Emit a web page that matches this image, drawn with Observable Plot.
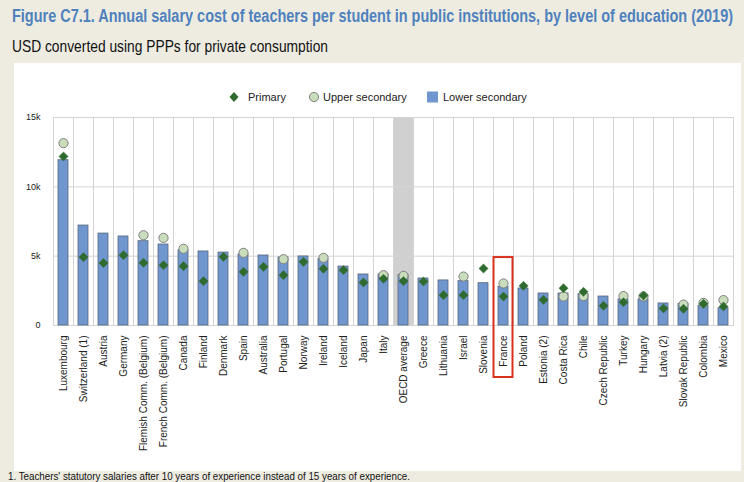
<!DOCTYPE html>
<html>
<head>
<meta charset="utf-8">
<script src="https://cdn.jsdelivr.net/npm/d3@7"></script>
<script src="https://cdn.jsdelivr.net/npm/@observablehq/plot@0.6"></script>
<style>
  html, body { margin: 0; padding: 0; background: #eeece1; }
  #page { position: relative; width: 744px; height: 482px; background: #eeece1; overflow: hidden; font-family: "Liberation Sans", Arial, sans-serif; }
  .fit { position: absolute; white-space: nowrap; transform-origin: 0 0; font-family: "Liberation Sans Narrow", "Arial Narrow", "Liberation Sans", Arial, sans-serif; }
  #title { left: 12px; top: 6px; font-size: 17.5px; font-weight: bold; color: #4f81bd; }
  #subtitle { left: 12px; top: 37px; font-size: 17px; color: #111; }
  #panel { position: absolute; left: 14px; top: 63px; width: 727px; height: 408px; background: #fff; }
  #chart { position: absolute; left: 14px; top: 106px; }
  .leg { position: absolute; font-size: 11px; color: #222; line-height: 12px; top: 91px; white-space: nowrap; }
  .sym { position: absolute; top: 91px; }
  #note { left: 8px; top: 471px; font-size: 10.5px; line-height: 11px; color: #111; }
</style>
</head>
<body>
<div id="page">
  <div id="title" class="fit">Figure C7.1. Annual salary cost of teachers per student in public institutions, by level of education (2019)</div>
  <div id="subtitle" class="fit">USD converted using PPPs for private consumption</div>
  <div id="panel"></div>
  <svg class="sym" style="left:229px" width="10" height="12"><path d="M5,1 L9.5,6 L5,11 L0.5,6 Z" fill="#2f6b2f"/></svg>
  <div class="leg" style="left:248px">Primary</div>
  <svg class="sym" style="left:308px" width="12" height="12"><circle cx="6" cy="6" r="4.6" fill="#c9dcbc" stroke="#7f7f7f" stroke-width="1"/></svg>
  <div class="leg" style="left:323px">Upper secondary</div>
  <svg class="sym" style="left:427px" width="12" height="12"><rect x="0" y="0.5" width="11" height="11" fill="#7096cf"/></svg>
  <div class="leg" style="left:443px">Lower secondary</div>
  <div id="chart"></div>
  <div id="note" class="fit">1. Teachers' statutory salaries after 10 years of experience instead of 15 years of experience.</div>
</div>
<script>
const countries = ["Luxembourg","Switzerland (1)","Austria","Germany","Flemish Comm. (Belgium)","French Comm. (Belgium)","Canada","Finland","Denmark","Spain","Australia","Portugal","Norway","Ireland","Iceland","Japan","Italy","OECD average","Greece","Lithuania","Israel","Slovenia","France","Poland","Estonia (2)","Costa Rica","Chile","Czech Republic","Turkey","Hungary","Latvia (2)","Slovak Republic","Colombia","Mexico"];
const lowerSecondary = [11920,7210,6630,6420,6080,5840,5420,5340,5260,5120,5050,4900,4980,4800,4250,3680,3680,3630,3390,3250,3200,3050,2790,2670,2310,2310,2260,2090,1880,1880,1590,1560,1420,1250];
const primary = [12190,4930,4500,5070,4520,4350,4280,3200,4950,3870,4230,3630,4590,4090,3990,3100,3370,3200,3170,2190,2190,4110,2090,2860,1850,2690,2430,1420,1680,2160,1230,1200,1560,1370];
const upperSecondary = [13150,null,null,null,6510,6320,5530,null,null,5240,null,4780,null,4880,null,null,3630,3580,null,null,3530,null,3030,null,null,2090,2120,null,2120,2090,null,1510,1630,1830];
const yTicks = [0,5000,10000,15000];
const averageCategory = "OECD average";
const highlightCategory = "France";

const rows = countries.map((c, i) => ({country: c, lower: lowerSecondary[i], primary: primary[i], upper: upperSecondary[i]}));
const gridColor = "#d4d4d4";

const chart = Plot.plot({
  width: 727,
  height: 360,
  marginLeft: 39,
  marginRight: 8,
  marginTop: 11,
  marginBottom: 141,
  style: {fontFamily: "'Liberation Sans', Arial, sans-serif", background: "transparent", overflow: "visible"},
  x: {type: "band", domain: countries, paddingInner: 0.5, paddingOuter: 0.25, label: null},
  y: {domain: [0, 15000], label: null},
  marks: [
    Plot.barY([averageCategory], {x: d => d, y: 15000, fill: "#d0d0d0", insetLeft: -5, insetRight: -5}),
    Plot.gridY(yTicks.slice(1), {stroke: gridColor, strokeOpacity: 1}),
    Plot.ruleX(countries, {x: d => d, dx: -10, stroke: gridColor, strokeOpacity: 1}),
    Plot.frame({stroke: gridColor}),
    Plot.barY(rows, {x: "country", y: "lower", fill: "#7096cf", stroke: "#58667a", strokeWidth: 0.8}),
    Plot.dot(rows.filter(d => d.upper != null), {x: "country", y: "upper", r: 4.6, fill: "#c9dcbc", stroke: "#7f7f7f", strokeWidth: 1}),
    Plot.dot(rows, {x: "country", y: "primary", symbol: "diamond2", r: 4.1, fill: "#2f6b2f", stroke: "#2f6b2f", strokeWidth: 0.5}),
    Plot.barY([highlightCategory], {x: d => d, y1: -3750, y2: 4900, fill: "none", stroke: "#d9301c", strokeWidth: 2, insetLeft: -4.5, insetRight: -4.5}),
    Plot.axisY({ticks: yTicks, tickSize: 0, tickPadding: 13, fontSize: 9, fill: "#222", label: null, tickFormat: d => d === 0 ? "0" : (d / 1000) + "k"}),
    Plot.axisX({tickRotate: -90, tickSize: 0, tickPadding: 10, fontSize: 10, fill: "#222", label: null})
  ]
});
document.getElementById("chart").appendChild(chart);

function fit(id, target) {
  const el = document.getElementById(id);
  const w = el.getBoundingClientRect().width;
  if (w > 0) el.style.transform = `scaleX(${target / w})`;
}
fit("title", 721);
fit("subtitle", 316);
fit("note", 402);
</script>
</body>
</html>
